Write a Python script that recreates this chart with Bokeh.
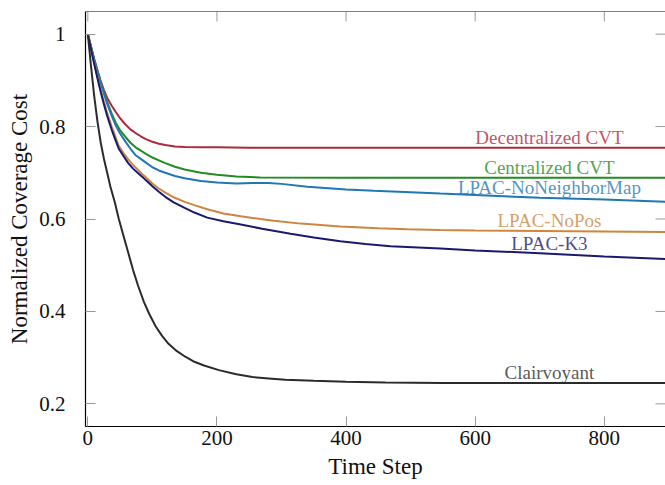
import numpy as np
from bokeh.plotting import figure
from bokeh.models import ColumnDataSource, FixedTicker, Range1d, Span
from bokeh.core.properties import value
from bokeh.embed import file_html
from bokeh.resources import INLINE

# ---- data ----
names = ["Decentralized CVT", "Centralized CVT", "LPAC-NoNeighborMap",
         "LPAC-NoPos", "LPAC-K3", "Clairvoyant"]
colors = ["#b0283a", "#228b22", "#1f78b4", "#cd853f", "#191970", "#2b2b2b"]

dec_x = [0, 5, 10, 15, 20, 25, 30, 37, 43, 50, 58, 66, 74, 82, 90, 100, 110, 120,
         135, 150, 175, 200, 250, 300, 500, 700, 900]
dec_y = [1.0, 0.972, 0.945, 0.921, 0.898, 0.879, 0.862, 0.845, 0.832, 0.818, 0.805,
         0.794, 0.786, 0.779, 0.773, 0.767, 0.763, 0.760, 0.757, 0.756, 0.755,
         0.755, 0.754, 0.754, 0.754, 0.754, 0.754]

cen_x = [0, 5, 10, 15, 20, 25, 30, 37, 43, 50, 58, 66, 74, 82, 90, 100, 110, 120,
         135, 150, 175, 200, 230, 267, 400, 600, 900]
cen_y = [1.0, 0.972, 0.945, 0.920, 0.896, 0.874, 0.853, 0.828, 0.809, 0.792, 0.778,
         0.765, 0.755, 0.748, 0.741, 0.733, 0.727, 0.721, 0.713, 0.707, 0.700,
         0.696, 0.692, 0.690, 0.689, 0.689, 0.689]

nnm_x = [0, 5, 10, 15, 20, 25, 30, 37, 43, 50, 58, 66, 74, 82, 90, 100, 110, 120,
         135, 150, 175, 200, 230, 255, 280, 300, 340, 400, 443, 500, 546, 600,
         700, 800, 900]
nnm_y = [1.0, 0.972, 0.944, 0.918, 0.894, 0.871, 0.849, 0.823, 0.803, 0.785, 0.768,
         0.752, 0.738, 0.730, 0.722, 0.712, 0.705, 0.700, 0.693, 0.688, 0.682,
         0.679, 0.677, 0.678, 0.678, 0.676, 0.670, 0.664, 0.661, 0.658, 0.655,
         0.652, 0.646, 0.642, 0.637]

nop_x = [0, 5, 10, 15, 20, 25, 30, 37, 43, 48, 55, 62, 70, 78, 86, 93, 100, 110,
         120, 133, 150, 165, 185, 210, 237, 267, 288, 330, 391, 450, 495, 546,
         600, 700, 800, 900]
nop_y = [1.0, 0.968, 0.937, 0.907, 0.879, 0.853, 0.829, 0.800, 0.777, 0.758, 0.743,
         0.730, 0.717, 0.706, 0.695, 0.686, 0.677, 0.666, 0.657, 0.647, 0.637,
         0.630, 0.621, 0.612, 0.606, 0.600, 0.596, 0.590, 0.584, 0.580, 0.578,
         0.576, 0.575, 0.574, 0.573, 0.572]

k3_x = [0, 5, 10, 15, 20, 25, 30, 37, 43, 48, 55, 62, 70, 78, 86, 93, 100, 110,
        120, 133, 150, 165, 185, 210, 237, 270, 314, 350, 391, 430, 469, 546,
        600, 700, 800, 900]
k3_y = [1.0, 0.967, 0.935, 0.904, 0.875, 0.848, 0.823, 0.793, 0.770, 0.752, 0.737,
        0.722, 0.709, 0.699, 0.689, 0.680, 0.671, 0.659, 0.648, 0.636, 0.624,
        0.614, 0.603, 0.595, 0.588, 0.579, 0.568, 0.560, 0.552, 0.546, 0.541,
        0.536, 0.532, 0.526, 0.519, 0.513]

cla_x = [0, 5, 10, 15, 20, 25, 30, 35, 42, 48, 55, 62, 70, 78, 87, 95, 105, 115,
         125, 138, 151, 165, 180, 203, 230, 255, 280, 306, 350, 400, 461, 550,
         700, 900]
cla_y = [1.0, 0.93, 0.865, 0.81, 0.765, 0.73, 0.70, 0.67, 0.635, 0.60, 0.565, 0.53,
         0.49, 0.455, 0.42, 0.395, 0.368, 0.347, 0.33, 0.314, 0.302, 0.291, 0.283,
         0.273, 0.264, 0.258, 0.255, 0.252, 0.250, 0.248, 0.246, 0.245, 0.245,
         0.245]

series_x = [dec_x, cen_x, nnm_x, nop_x, k3_x, cla_x]
series_y = [dec_y, cen_y, nnm_y, nop_y, k3_y, cla_y]

x_ticks = [0, 200, 400, 600, 800]
y_ticks = [0.2, 0.4, 0.6, 0.8, 1]
label_x = 715

FONT = "Liberation Serif"
TICK_COLOR = "#999999"

x_rng = Range1d(-3.6, 894.8)
y_rng = Range1d(0.151, 1.049)

p = figure(width=665, height=485, x_range=x_rng, y_range=y_rng,
           output_backend="svg", toolbar_location=None,
           min_border_left=85, min_border_right=0, min_border_top=11,
           min_border_bottom=59, background_fill_color="white",
           border_fill_color="white")

p.xgrid.visible = False
p.ygrid.visible = False
p.outline_line_color = None

for ax, ticks in ((p.xaxis[0], x_ticks), (p.yaxis[0], y_ticks)):
    ax.ticker = FixedTicker(ticks=ticks)
    ax.major_tick_in = 10
    ax.major_tick_out = 0
    ax.minor_tick_line_color = None
    ax.major_tick_line_color = TICK_COLOR
    ax.axis_line_color = "black"
    ax.axis_line_width = 1.2
    ax.major_label_text_font = FONT
    ax.major_label_text_font_size = "21px"
    ax.major_label_text_color = "#111111"
    ax.axis_label_text_font = FONT
    ax.axis_label_text_font_size = "23px"
    ax.axis_label_text_font_style = "normal"
    ax.axis_label_text_color = "#111111"

p.xaxis[0].axis_label = "Time Step"
p.xaxis[0].major_label_standoff = 4
p.xaxis[0].axis_label_standoff = 6
p.yaxis[0].axis_label = "Normalized Coverage Cost"
p.yaxis[0].major_label_standoff = 20
p.yaxis[0].axis_label_standoff = 4
p.yaxis[0].major_label_overrides = {1: "1"}

# top frame edge (the right edge is cut off in the reference)
p.add_layout(Span(location=y_rng.end, dimension="width", line_color="black",
                  line_width=1.2))

# mirrored tick marks on the top and right frame edges (no labels)
p.ray(x=x_ticks, y=[y_rng.end] * len(x_ticks), length=10, length_units="screen",
      angle=-np.pi / 2, line_color=TICK_COLOR, line_width=1)
p.ray(x=[x_rng.end] * len(y_ticks), y=y_ticks, length=10, length_units="screen",
      angle=np.pi, line_color=TICK_COLOR, line_width=1)

for xs, ys, c in zip(series_x, series_y, colors):
    p.line(xs, ys, line_color=c, line_width=2)

lab_y = [float(np.interp(label_x, xs, ys)) for xs, ys in zip(series_x, series_y)]
src = ColumnDataSource(dict(x=[label_x] * len(names), y=lab_y, text=names, color=colors))
p.text(x="x", y="y", text="text", source=src, text_color="color", text_alpha=0.8,
       text_font=value(FONT), text_font_size="19px", text_align="center",
       text_baseline="middle", y_offset=-10.5)

open("out.html", "w").write(file_html(p, INLINE))
